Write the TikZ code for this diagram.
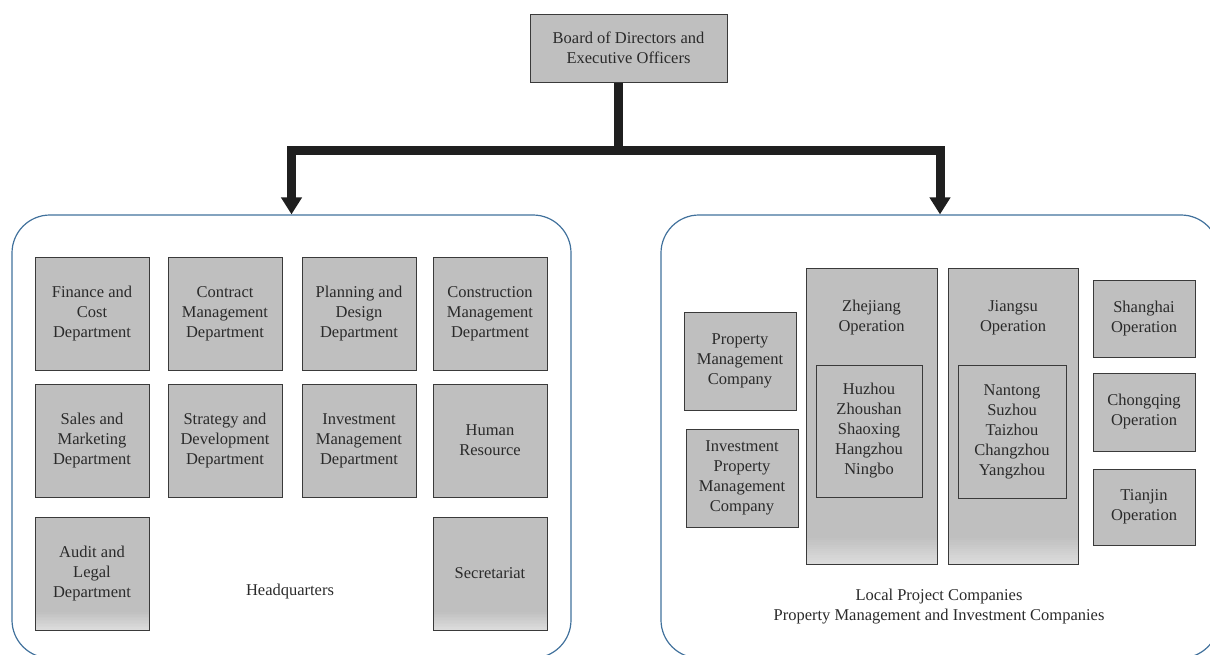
\documentclass[tikz,border=0pt]{standalone}
\usepackage{fontspec}
\setmainfont{Liberation Serif}
\usetikzlibrary{arrows.meta}
\definecolor{boxgray}{HTML}{BFBFBF}
\definecolor{boxlight}{HTML}{DCDCDC}
\definecolor{boxline}{HTML}{3A3A3A}
\definecolor{contblue}{HTML}{41719C}
\definecolor{txt}{HTML}{2A2A2A}
\begin{document}
\begin{tikzpicture}[x=1pt,y=-1pt,
 every node/.style={font=\fontsize{16.5}{20}\selectfont, text=txt, align=center, inner sep=0pt},
 box/.style={draw=boxline, line width=1pt, fill=boxgray},
 grad/.style={box, path picture={
   \foreach \i in {1,...,12} {
     \pgfmathtruncatemacro{\pc}{\i*100/12}
     \fill[boxlight!\pc!boxgray] ([yshift={(13-\i)*#1/12}]path picture bounding box.south west) rectangle ([yshift={(12-\i)*#1/12-0.3pt}]path picture bounding box.south east);
   }}},
 grad/.default=18pt,
 dept/.style={box, minimum width=114pt, minimum height=113pt},
 container/.style={draw=contblue, line width=1.2pt, rounded corners=38pt},
 conn/.style={line width=9pt, draw=black!88, line join=miter, -{Triangle[width=20pt,length=17pt]}}
]
\useasboundingbox (0,0) rectangle (1210,654);
\clip (0,0) rectangle (1210,654);

% top
\node[box, minimum width=197pt, minimum height=68pt] (board) at (628.5,48) {Board of Directors and\\Executive Officers};
\node[container, minimum width=559pt, minimum height=443pt] (hq) at (291.5,436.5) {};
\node[container, minimum width=558pt, minimum height=443pt] (lp) at (940,436.5) {};
\coordinate (j) at (618,150);
\draw[conn] (board.south -| j) -- (j) -| (hq.north);
\draw[conn] (j) -| (lp.north);

% headquarters
\node[dept] (fin) at (92,313.5) {Finance and\\Cost\\Department};
\node[dept] (con) at (225,313.5) {Contract\\Management\\Department};
\node[dept] (plan) at (359,313.5) {Planning and\\Design\\Department};
\node[dept] (cons) at (490,313.5) {Construction\\Management\\Department};
\node[dept] (sales) at (92,440.5) {Sales and\\Marketing\\Department};
\node[dept] (strat) at (225,440.5) {Strategy and\\Development\\Department};
\node[dept] (inv) at (359,440.5) {Investment\\Management\\Department};
\node[dept] (hr) at (490,440.5) {Human\\Resource};
\node[dept, grad] (audit) at (92,573.5) {Audit and\\Legal\\Department};
\node[dept, grad] (sec) at (490,573.5) {Secretariat};
\node (hqlabel) at (290,592) {Headquarters};

% local project companies
\node[box, minimum width=112pt, minimum height=98pt] (pmc) at (740,361) {Property\\Management\\Company};
\node[box, minimum width=112pt, minimum height=98pt] (ipmc) at (742,478) {Investment\\Property\\Management\\Company};
\node[grad=26pt, minimum width=131pt, minimum height=296pt] (zj) at (871.5,416) {};
\node (zjt) at (871.5,318) {Zhejiang\\Operation};
\node[box, minimum width=106pt, minimum height=132pt] (zjc) at (869,431) {Huzhou\\Zhoushan\\Shaoxing\\Hangzhou\\Ningbo};
\node[grad=26pt, minimum width=130pt, minimum height=296pt] (js) at (1013,416) {};
\node (jst) at (1013,318) {Jiangsu\\Operation};
\node[box, minimum width=108pt, minimum height=133pt] (jsc) at (1012,431.5) {Nantong\\Suzhou\\Taizhou\\Changzhou\\Yangzhou};
\node[box, minimum width=102pt, minimum height=77pt] (sh) at (1144,318.5) {Shanghai\\Operation};
\node[box, minimum width=102pt, minimum height=78pt] (cq) at (1144,412) {Chongqing\\Operation};
\node[box, minimum width=102pt, minimum height=76pt] (tj) at (1144,507) {Tianjin\\Operation};
\node (lpl) at (939,607) {Local Project Companies\\Property Management and Investment Companies};
\end{tikzpicture}
\end{document}
